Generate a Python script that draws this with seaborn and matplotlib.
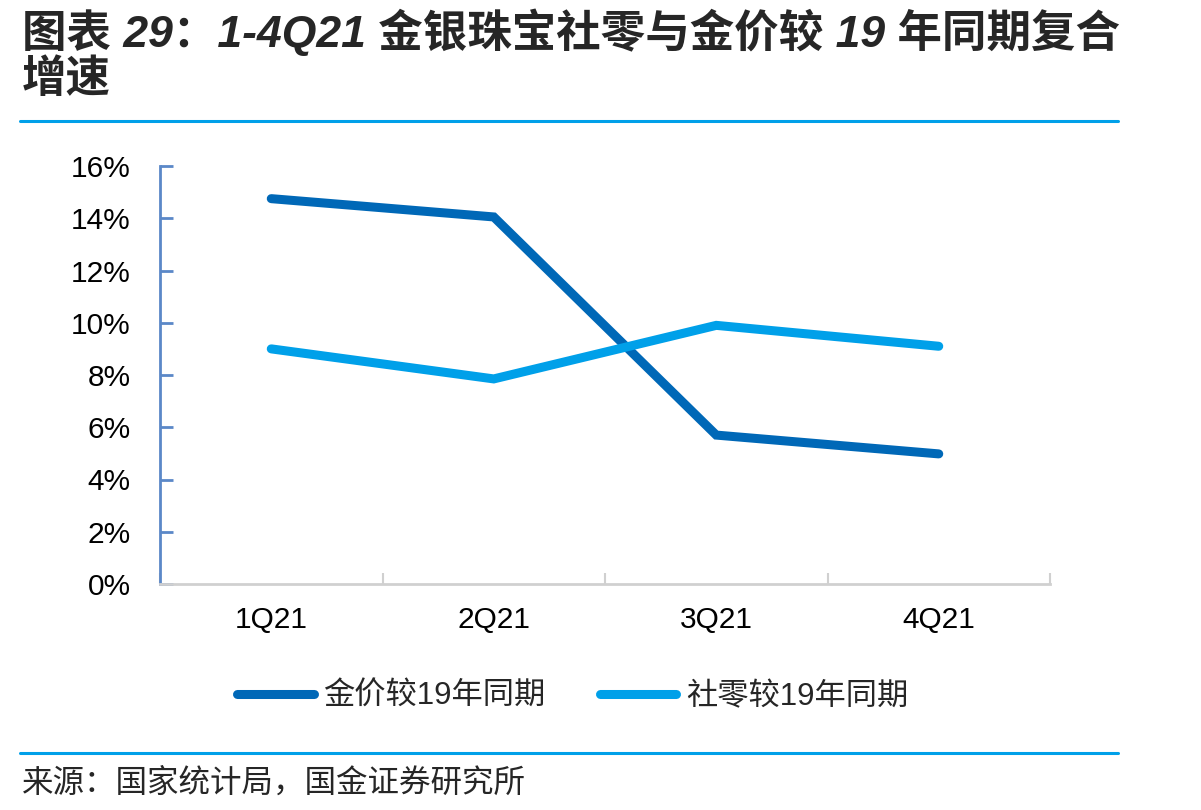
import pandas as pd
import matplotlib
matplotlib.use("Agg")
import matplotlib.pyplot as plt
from matplotlib.lines import Line2D
from matplotlib.ticker import FixedLocator, FuncFormatter
import seaborn as sns

# data (percent)

quarters = ["1Q21", "2Q21", "3Q21", "4Q21"]
gold_price = [14.75, 14.05, 5.7, 4.98]
retail_sales = [9.0, 7.85, 9.9, 9.1]
series_names = ["金价较19年同期", "社零较19年同期"]
series_colors = ["#0068B7", "#00A0E9"]

title_line1 = "图表 29：1-4Q21 金银珠宝社零与金价较 19 年同期复合"
title_line2 = "增速"
source_text = "来源：国家统计局，国金证券研究所"

# long-form table for seaborn

df = pd.DataFrame({
    "quarter": quarters * 2,
    "value": gold_price + retail_sales,
    "series": [series_names[0]] * 4 + [series_names[1]] * 4,
})

sns.set_style("white")
plt.rcParams["font.family"] = ["Liberation Sans", "Noto Sans CJK SC"]

fig = plt.figure(figsize=(12.01, 8.10), dpi=100)
ax = fig.add_axes([160 / 1201, 226 / 810, 890 / 1201, 418 / 810])

sns.lineplot(data=df, x="quarter", y="value", hue="series", palette=series_colors,
             linewidth=6.5, sort=False, legend=False, ax=ax)
for line in ax.get_lines():
    line.set_solid_capstyle("round")
    line.set_solid_joinstyle("miter")

ax.set_xlim(-0.5, 3.5)
ax.set_ylim(0, 16)
ax.set_xlabel("")
ax.set_ylabel("")

# y axis: blue spine, ticks pointing in
ax.yaxis.set_major_locator(FixedLocator(range(0, 17, 2)))
ax.yaxis.set_major_formatter(FuncFormatter(lambda v, p: f"{v:.0f}%"))
ax.tick_params(axis="y", left=True, direction="in", length=9, width=2, color="#5B88C8",
               labelsize=21.5, labelcolor="black", pad=21)

# x axis: grey spine, ticks between categories
ax.xaxis.set_minor_locator(FixedLocator([-0.5, 0.5, 1.5, 2.5, 3.5]))
ax.tick_params(axis="x", which="major", bottom=False, length=0, labelsize=21.5,
               labelcolor="black", pad=16)
ax.tick_params(axis="x", which="minor", bottom=True, direction="in", length=8, width=1.5,
               color="#D0D0D0")

for side in ["top", "right"]:
    ax.spines[side].set_visible(False)
ax.spines["left"].set_color("#5B88C8")
ax.spines["left"].set_linewidth(2)
ax.spines["bottom"].set_color("#D0D0D0")
ax.spines["bottom"].set_linewidth(2)

# legend below the plot
handles = [Line2D([], [], color=c, linewidth=6.5, solid_capstyle="round") for c in series_colors]
fig.legend(handles, series_names, loc="center left", bbox_to_anchor=(237 / 1201, 1 - 697 / 810),
           ncol=2, frameon=False, fontsize=22.5, borderpad=0, borderaxespad=0,
           handlelength=2.45, handletextpad=0.3, columnspacing=1.75)

# title, rules and source
fig.text(22 / 1201, 1 - 32 / 810, title_line1, fontsize=32, fontweight="bold", fontstyle="italic",
         ha="left", va="center")
fig.text(22 / 1201, 1 - 80 / 810, title_line2, fontsize=32, fontweight="bold", fontstyle="italic",
         ha="left", va="center")
fig.add_artist(Line2D([20 / 1201, 1118 / 1201], [1 - 121 / 810] * 2, color="#00A0E9", linewidth=2.2))
fig.add_artist(Line2D([20 / 1201, 1118 / 1201], [1 - 753 / 810] * 2, color="#00A0E9", linewidth=2.2))
fig.text(22 / 1201, 1 - 783 / 810, source_text, fontsize=22.7, family="Noto Sans CJK SC",
         ha="left", va="center")

fig.savefig("out.png", dpi=100)
